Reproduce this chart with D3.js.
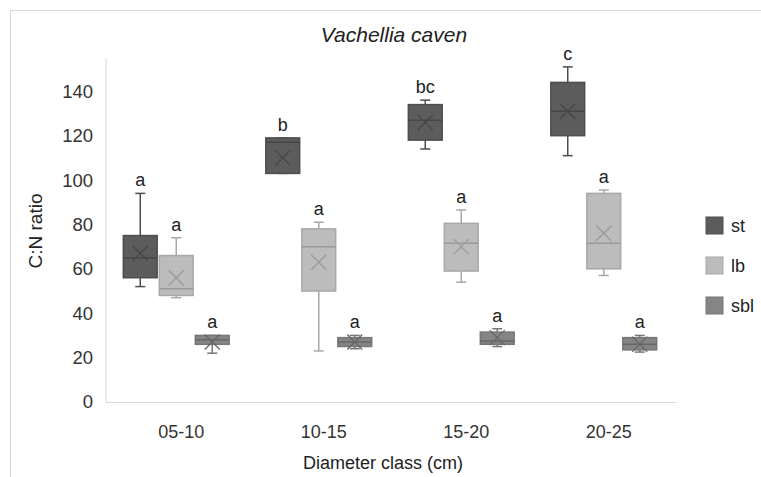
<!DOCTYPE html>
<html><head><meta charset="utf-8">
<script src="https://cdn.jsdelivr.net/npm/d3@7"></script>
<style>body{margin:0;background:#fff;} svg{display:block;font-family:"Liberation Sans",Arial,sans-serif;}</style>
</head><body>
<svg id="c" width="761" height="477"></svg>
<script>
const categories = ["05-10","10-15","15-20","20-25"];
const series = ["st","lb","sbl"];
const yTicks = [0,20,40,60,80,100,120,140];

const stMin  = [52, 103, 114, 111];
const stQ1   = [56, 103, 118, 120];
const stMed  = [65, 117, 127, 131];
const stQ3   = [75, 119, 134, 144];
const stMax  = [94, 119, 136, 151];
const stMean = [67, 110, 126, 131];
const stLetters = ["a","b","bc","c"];

const lbMin  = [47, 23, 54, 57];
const lbQ1   = [48, 50, 59, 60];
const lbMed  = [51, 70, 71.5, 71.5];
const lbQ3   = [66, 78, 80.5, 94];
const lbMax  = [74, 81, 86.5, 95.5];
const lbMean = [56, 63, 70, 76];
const lbLetters = ["a","a","a","a"];

const sblMin  = [22, 24, 25, 22.5];
const sblQ1   = [26, 25, 26, 23.5];
const sblMed  = [28, 27, 27.5, 26];
const sblQ3   = [30, 29, 31.5, 29];
const sblMax  = [30, 30, 33, 30];
const sblMean = [27, 27, 29, 26];
const sblLetters = ["a","a","a","a"];

const seriesData = {
  st:  {min:stMin, q1:stQ1, med:stMed, q3:stQ3, max:stMax, mean:stMean, letters:stLetters},
  lb:  {min:lbMin, q1:lbQ1, med:lbMed, q3:lbQ3, max:lbMax, mean:lbMean, letters:lbLetters},
  sbl: {min:sblMin, q1:sblQ1, med:sblMed, q3:sblQ3, max:sblMax, mean:sblMean, letters:sblLetters}
};
const fills   = {st:"#5c5c5c", lb:"#bcbcbc", sbl:"#858585"};
const strokes = {st:"#4e4e4e", lb:"#a8a8a8", sbl:"#767676"};
const marks   = {st:"#464646", lb:"#999999", sbl:"#666666"};

const svg = d3.select("#c");
svg.append("rect").attr("x",10.5).attr("y",10.5).attr("width",800).attr("height",500)
  .attr("fill","#fff").attr("stroke","#d9d9d9");

const x = d3.scaleBand().domain(categories).range([106,676]);
const inner = d3.scaleBand().domain(series).range([-55,53]).paddingInner(0.06).paddingOuter(0.03);
const y = d3.scaleLinear().domain([0,155]).range([402,58]);

svg.append("line").attr("x1",106).attr("x2",106).attr("y1",y(155)).attr("y2",y(0)).attr("stroke","#d9d9d9");
svg.append("line").attr("x1",106).attr("x2",676).attr("y1",y(0)+0.5).attr("y2",y(0)+0.5).attr("stroke","#d9d9d9");

svg.append("g").selectAll("text").data(yTicks).join("text")
  .attr("x",93).attr("y",d=>y(d)).attr("dy","0.35em").attr("text-anchor","end")
  .attr("font-size",18.5).attr("fill","#333").text(d=>d);

svg.append("g").selectAll("text").data(categories).join("text")
  .attr("x",d=>x(d)+x.bandwidth()/2+4).attr("y",432).attr("dy","0.35em").attr("text-anchor","middle")
  .attr("font-size",18).attr("fill","#333").text(d=>d);

svg.append("text").attr("x",394).attr("y",35).attr("dy","0.35em").attr("text-anchor","middle")
  .attr("font-size",21).attr("font-style","italic").attr("fill","#222").text("Vachellia caven");
svg.append("text").attr("x",383).attr("y",463).attr("dy","0.35em").attr("text-anchor","middle")
  .attr("font-size",18).attr("fill","#222").text("Diameter class (cm)");
svg.append("text").attr("transform","translate(35,231) rotate(-90)").attr("dy","0.35em").attr("text-anchor","middle")
  .attr("font-size",19).attr("fill","#222").text("C:N ratio");

const bw = inner.bandwidth();
series.forEach(s=>{
  const d = seriesData[s];
  const g = svg.append("g");
  categories.forEach((c,i)=>{
    const cx = x(c)+x.bandwidth()/2 + inner(s) + bw/2;
    const left = cx-bw/2;
    g.append("line").attr("x1",cx).attr("x2",cx).attr("y1",y(d.max[i])).attr("y2",y(d.q3[i])).attr("stroke",strokes[s]).attr("stroke-width",1.5);
    g.append("line").attr("x1",cx).attr("x2",cx).attr("y1",y(d.q1[i])).attr("y2",y(d.min[i])).attr("stroke",strokes[s]).attr("stroke-width",1.5);
    [d.max[i], d.min[i]].forEach(v=>{
      g.append("line").attr("x1",cx-5).attr("x2",cx+5).attr("y1",y(v)).attr("y2",y(v)).attr("stroke",strokes[s]).attr("stroke-width",1.5);
    });
    g.append("rect").attr("x",left).attr("y",y(d.q3[i])).attr("width",bw).attr("height",Math.max(1,y(d.q1[i])-y(d.q3[i])))
      .attr("fill",fills[s]).attr("stroke",strokes[s]).attr("stroke-width",1.5);
    g.append("line").attr("x1",left).attr("x2",left+bw).attr("y1",y(d.med[i])).attr("y2",y(d.med[i])).attr("stroke",marks[s]).attr("stroke-width",1.5);
    const my = y(d.mean[i]), r = 7.5;
    g.append("path").attr("d",`M${cx-r},${my-r}L${cx+r},${my+r}M${cx-r},${my+r}L${cx+r},${my-r}`)
      .attr("stroke",marks[s]).attr("stroke-width",1.3).attr("fill","none");
    g.append("text").attr("x",cx).attr("y",y(d.max[i])-7).attr("text-anchor","middle")
      .attr("font-size",18).attr("fill","#222").text(d.letters[i]);
  });
});

const leg = svg.append("g").selectAll("g").data(series).join("g")
  .attr("transform",(d,i)=>`translate(706,${217+i*40})`);
leg.append("rect").attr("width",17).attr("height",17).attr("fill",d=>fills[d]).attr("stroke",d=>strokes[d]);
leg.append("text").attr("x",25).attr("y",8.5).attr("dy","0.35em").attr("font-size",18).attr("fill","#222").text(d=>d);
</script>
</body></html>
